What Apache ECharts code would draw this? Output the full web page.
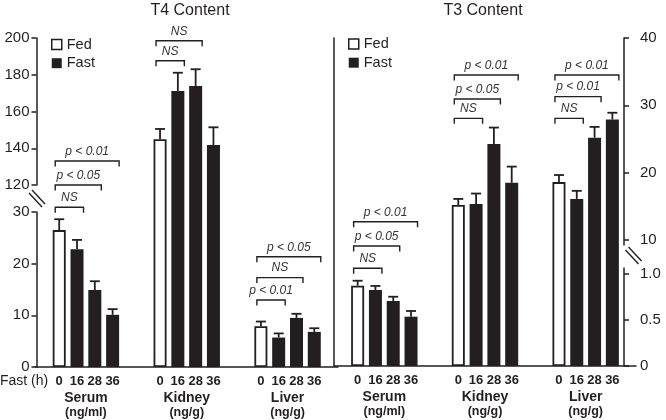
<!DOCTYPE html>
<html><head><meta charset="utf-8">
<script src="https://cdn.jsdelivr.net/npm/echarts@6/dist/echarts.min.js"></script>
<style>html,body{margin:0;padding:0;background:#fff}#c{width:666px;height:420px}</style>
</head><body><div id="c"></div>
<script>
// ---------------- data ----------------
const groups = ['Serum', 'Kidney', 'Liver'];
const groupUnits = ['(ng/ml)', '(ng/g)', '(ng/g)'];
const hours = ['0', '16', '28', '36'];
const seriesNames = ['Fed', 'Fast', 'Fast', 'Fast'];
// T4 content: mean and SEM; rows = groups, columns = fasting hours
const t4Mean = [[26.5, 22.8, 14.9, 10.1], [144.9, 171.2, 173.9, 141.8], [7.9, 5.7, 9.5, 6.8]];
const t4Sem  = [[2.1, 1.8, 1.7, 1.1], [5.6, 9.9, 9.1, 9.6], [0.9, 0.8, 0.8, 0.7]];
// T3 content
const t3Mean = [[0.873, 0.826, 0.707, 0.536], [15.2, 15.35, 24.26, 18.5], [18.6, 16.1, 25.2, 27.9]];
const t3Sem  = [[0.054, 0.044, 0.046, 0.062], [0.9, 1.55, 2.44, 2.4], [1.05, 1.2, 1.6, 1.0]];
// significance brackets: [group, compared hour index, level on panel axis]
const t4Brackets = [[0, 1, 45.7], [0, 2, 120], [0, 3, 133.1], [1, 1, 187.6], [1, 2, 198.5], [2, 1, 12.97], [2, 2, 17.3], [2, 3, 21.35]];
const t4BracketLabels = ['NS', 'p < 0.05', 'p < 0.01', 'NS', 'NS', 'p < 0.01', 'NS', 'p < 0.05'];
const t3Brackets = [[0, 1, 2.51], [0, 2, 8.41], [0, 3, 12.72], [1, 1, 28.07], [1, 2, 30.94], [1, 3, 34.5], [2, 1, 28.07], [2, 2, 31.29], [2, 3, 34.5]];
const t3BracketLabels = ['NS', 'p < 0.05', 'p < 0.01', 'NS', 'p < 0.05', 'p < 0.01', 'NS', 'p < 0.01', 'p < 0.01'];
// axis ticks
const t4LowTicks = [0, 10, 20, 30];
const t4HighTicks = [120, 140, 160, 180, 200];
const t3LowTicks = [0, 0.5, 1.0];
const t3HighTicks = [10, 20, 30, 40];

// ---------------- layout / style ----------------
const INK = '#231f20';
const FONT = '"Liberation Sans", Arial, Helvetica, sans-serif';
const BAR_W = 13, BAR_SPACE = 4.8, STEP = BAR_W + BAR_SPACE, CAP = 5;

// broken-axis mapping: value -> fraction of panel height
function makeBreak(lowMax, highMin, highMax, lowPx, gapPx, highPx) {
  const total = lowPx + gapPx + highPx;
  return v => {
    let px;
    if (v <= lowMax) px = v / lowMax * lowPx;
    else if (v < highMin) px = lowPx + (v - lowMax) / (highMin - lowMax) * gapPx;
    else px = lowPx + gapPx + (v - highMin) / (highMax - highMin) * highPx;
    return px / total;
  };
}
const brkT4 = makeBreak(30, 120, 200, 155, 27, 147);
const brkT3 = makeBreak(1, 10, 40, 92, 34, 202);

const chart = echarts.init(document.getElementById('c'), null, {renderer: 'canvas'});

function catLabel(v, i) {
  const idx = groups.indexOf(v);
  return hours.map(h => '{h|' + h + '}').join('') + '\n{n|' + v + '}\n{u|' + groupUnits[idx] + '}';
}
const richLabel = {
  h: {width: STEP, align: 'center', fontSize: 13, fontWeight: 'bold', lineHeight: 15, color: INK, fontFamily: FONT},
  n: {fontSize: 14, fontWeight: 'bold', lineHeight: 19, color: INK, fontFamily: FONT},
  u: {fontSize: 12.5, fontWeight: 'bold', lineHeight: 9, color: INK, fontFamily: FONT}
};

function barSeries(meanArr, brk, axisIdx) {
  return hours.map((h, hi) => ({
    type: 'bar', name: seriesNames[hi], xAxisIndex: axisIdx, yAxisIndex: axisIdx,
    barWidth: BAR_W, barGap: (BAR_SPACE / BAR_W * 100) + '%',
    data: groups.map((g, gi) => brk(meanArr[gi][hi])),
    itemStyle: hi === 0 ? {color: '#fff', borderColor: INK, borderWidth: 1.8} : {color: INK},
    emphasis: {disabled: true}, silent: true, animation: false
  }));
}

function errSeries(meanArr, semArr, brk, axisIdx) {
  const data = [];
  groups.forEach((g, gi) => hours.forEach((h, hi) => {
    data.push([gi, hi, brk(meanArr[gi][hi]), brk(meanArr[gi][hi] + semArr[gi][hi])]);
  }));
  return {
    type: 'custom', xAxisIndex: axisIdx, yAxisIndex: axisIdx, silent: true, animation: false,
    encode: {x: 0, y: 3}, clip: false, z: 3,
    data,
    renderItem(params, api) {
      const gi = api.value(0), hi = api.value(1);
      const base = api.coord([gi, api.value(2)]);
      const top = api.coord([gi, api.value(3)]);
      const x = base[0] + (hi - 1.5) * STEP;
      const st = {stroke: INK, lineWidth: 1.8};
      return {type: 'group', children: [
        {type: 'line', shape: {x1: x, y1: base[1], x2: x, y2: top[1]}, style: st},
        {type: 'line', shape: {x1: x - CAP, y1: top[1], x2: x + CAP, y2: top[1]}, style: st}
      ]};
    }
  };
}

function bracketSeries(brackets, labels, brk, axisIdx) {
  return {
    type: 'custom', xAxisIndex: axisIdx, yAxisIndex: axisIdx, silent: true, animation: false,
    encode: {x: 0, y: 2}, clip: false, z: 3,
    data: brackets.map(b => [b[0], b[1], brk(b[2])]),
    renderItem(params, api) {
      const gi = api.value(0), to = api.value(1);
      const c = api.coord([gi, api.value(2)]);
      const x1 = c[0] - 1.5 * STEP - 4;
      const x2 = c[0] + (to - 1.5) * STEP + 6.5;
      const y = c[1];
      return {type: 'group', children: [
        {type: 'polyline', shape: {points: [[x1, y + 5.5], [x1, y], [x2, y], [x2, y + 5.5]]},
         style: {stroke: INK, lineWidth: 1.4, fill: null}},
        {type: 'text', x: (x1 + x2) / 2, y: y - 9.5,
         style: {text: labels[params.dataIndex], fontSize: 12, fontStyle: 'italic', fontFamily: FONT,
                 fill: '#333', align: 'center', verticalAlign: 'middle'}}
      ]};
    }
  };
}

const axisLineStyle = {color: INK, width: 1.5};
const tickLabel = {fontSize: 15, color: INK, fontFamily: FONT};

function legendFor(left, top) {
  return {
    left, top, orient: 'vertical', padding: 0, itemWidth: 10, itemHeight: 10, itemGap: 3.7,
    selectedMode: false, icon: 'rect',
    textStyle: {fontSize: 14.5, color: INK, fontFamily: FONT, lineHeight: 14},
    data: [
      {name: 'Fed', itemStyle: {color: '#fff', borderColor: INK, borderWidth: 1.5}},
      {name: 'Fast', itemStyle: {color: INK, borderWidth: 0}}
    ]
  };
}

const option = {
  animation: false,
  backgroundColor: '#fff',
  textStyle: {fontFamily: FONT},
  title: [
    {text: 'T4 Content', left: 190, top: 3, padding: 0, textAlign: 'center',
     textStyle: {fontSize: 16, fontWeight: 'normal', color: INK, fontFamily: FONT}},
    {text: 'T3 Content', left: 483, top: 3, padding: 0, textAlign: 'center',
     textStyle: {fontSize: 16, fontWeight: 'normal', color: INK, fontFamily: FONT}}
  ],
  legend: [legendFor(51, 37), legendFor(348, 36.5)],
  grid: [
    {left: 35.5, width: 302.5, top: 38, height: 329},   // 0 T4 bars
    {left: 334, width: 302, top: 38, height: 328},      // 1 T3 bars
    {left: 36.5, width: 10, top: 38, height: 147},      // 2 T4 upper axis
    {left: 36.5, width: 10, top: 212, height: 155},     // 3 T4 lower axis
    {left: 624, width: 10, top: 38, height: 207},       // 4 T3 upper axis
    {left: 624, width: 10, top: 268, height: 98}        // 5 T3 lower axis
  ],
  xAxis: [
    {gridIndex: 0, type: 'category', data: groups, axisLine: {lineStyle: axisLineStyle},
     axisTick: {show: false}, axisLabel: {formatter: catLabel, rich: richLabel, margin: 7, interval: 0}},
    {gridIndex: 1, type: 'category', data: groups, axisLine: {lineStyle: axisLineStyle},
     axisTick: {show: false}, axisLabel: {formatter: catLabel, rich: richLabel, margin: 7, interval: 0}},
    {gridIndex: 2, type: 'value', show: false},
    {gridIndex: 3, type: 'value', show: false},
    {gridIndex: 4, type: 'value', show: false},
    {gridIndex: 5, type: 'value', show: false}
  ],
  yAxis: [
    {gridIndex: 0, type: 'value', min: 0, max: 1, show: false},
    {gridIndex: 1, type: 'value', min: 0, max: 1, axisLine: {show: true, lineStyle: axisLineStyle},
     axisTick: {show: false}, axisLabel: {show: false}, splitLine: {show: false}},
    {gridIndex: 2, type: 'value', position: 'left', min: t4HighTicks[0], max: t4HighTicks[t4HighTicks.length - 1],
     axisLine: {show: true, lineStyle: axisLineStyle},
     axisTick: {show: true, length: 5, lineStyle: axisLineStyle, customValues: t4HighTicks},
     axisLabel: Object.assign({margin: 7, customValues: t4HighTicks}, tickLabel), splitLine: {show: false}},
    {gridIndex: 3, type: 'value', position: 'left', min: t4LowTicks[0], max: t4LowTicks[t4LowTicks.length - 1],
     axisLine: {show: true, lineStyle: axisLineStyle},
     axisTick: {show: true, length: 5, lineStyle: axisLineStyle, customValues: t4LowTicks},
     axisLabel: Object.assign({margin: 7, customValues: t4LowTicks}, tickLabel), splitLine: {show: false}},
    {gridIndex: 4, type: 'value', position: 'right', min: 10 - 5 / (202 / 30), max: 40,
     axisLine: {show: true, lineStyle: axisLineStyle},
     axisTick: {show: true, length: 5, lineStyle: axisLineStyle, customValues: t3HighTicks},
     axisLabel: Object.assign({margin: 6, customValues: t3HighTicks}, tickLabel), splitLine: {show: false}},
    {gridIndex: 5, type: 'value', position: 'right', min: 0, max: 1 + 6 / 92,
     axisLine: {show: true, lineStyle: axisLineStyle},
     axisTick: {show: true, length: 5, lineStyle: axisLineStyle, customValues: t3LowTicks},
     axisLabel: Object.assign({margin: 6, customValues: t3LowTicks,
       formatter: v => v === 0 ? '0' : v.toFixed(1)}, tickLabel), splitLine: {show: false}}
  ],
  series: [].concat(
    barSeries(t4Mean, brkT4, 0),
    barSeries(t3Mean, brkT3, 1),
    [errSeries(t4Mean, t4Sem, brkT4, 0), errSeries(t3Mean, t3Sem, brkT3, 1),
     bracketSeries(t4Brackets, t4BracketLabels, brkT4, 0), bracketSeries(t3Brackets, t3BracketLabels, brkT3, 1)]
  ),
  graphic: [
    {type: 'text', x: 0, y: 381.5, style: {text: 'Fast (h)', fontSize: 14, fontFamily: FONT, fill: INK, verticalAlign: 'middle'}},
    // axis break marks
    {type: 'line', shape: {x1: 29, y1: 193, x2: 42, y2: 207}, style: {stroke: INK, lineWidth: 1.4}},
    {type: 'line', shape: {x1: 32, y1: 190, x2: 45, y2: 204}, style: {stroke: INK, lineWidth: 1.4}},
    {type: 'line', shape: {x1: 625.5, y1: 250, x2: 638.5, y2: 264}, style: {stroke: INK, lineWidth: 1.4}},
    {type: 'line', shape: {x1: 628.5, y1: 247, x2: 641.5, y2: 261}, style: {stroke: INK, lineWidth: 1.4}}
  ]
};
chart.setOption(option);
</script>
</body></html>
